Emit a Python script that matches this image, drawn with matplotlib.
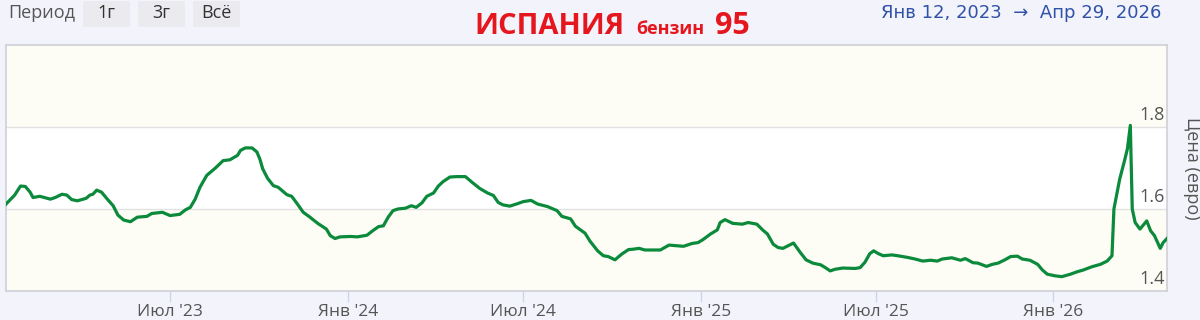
import numpy as np
import pandas as pd
import matplotlib
matplotlib.use('Agg')
import matplotlib.pyplot as plt
import matplotlib.transforms as mtransforms
from matplotlib.patches import FancyBboxPatch

plt.rcParams['font.family'] = ['Open Sans', 'DejaVu Sans']

# данные (дни от 12.01.2023, цена в евро)
start_date = '2023-01-12'
day_offset = [0, 9, 15, 20, 25, 28, 35, 46, 51, 58, 63, 68, 74, 83, 87, 90, 94, 99,
              105, 111, 116, 122, 129, 136, 146, 151, 162, 170, 180, 186, 191, 196,
              201, 208, 217, 225, 232, 240, 243, 248, 255, 260, 263, 266, 271, 277,
              282, 286, 291, 296, 302, 308, 315, 323, 332, 336, 341, 346, 357, 364,
              374, 380, 386, 391, 396, 401, 406, 414, 420, 425, 431, 436, 443, 448,
              453, 460, 467, 476, 483, 491, 499, 505, 510, 515, 522, 530, 536, 544,
              551, 561, 571, 576, 585, 590, 600, 605, 613, 619, 624, 631, 638, 645,
              650, 656, 662, 678, 687, 702, 711, 717, 722, 730, 737, 740, 745, 753,
              763, 769, 778, 784, 789, 795, 800, 805, 810, 816, 823, 829, 836, 844,
              849, 854, 859, 867, 880, 885, 890, 895, 899, 904, 909, 918, 924, 934,
              942, 950, 958, 965, 970, 980, 989, 994, 1002, 1007, 1016, 1022, 1028,
              1035, 1041, 1048, 1053, 1061, 1069, 1074, 1079, 1087, 1094, 1103, 1110,
              1116, 1125, 1134, 1141, 1146, 1148, 1151, 1154, 1159, 1162, 1165, 1167,
              1170, 1175, 1182, 1186, 1190, 1196, 1199, 1203]
price = [1.612, 1.634, 1.656, 1.655, 1.641, 1.628, 1.631, 1.624, 1.628, 1.636, 1.634,
         1.623, 1.620, 1.626, 1.634, 1.636, 1.646, 1.641, 1.624, 1.608, 1.585, 1.573,
         1.569, 1.580, 1.582, 1.589, 1.592, 1.584, 1.587, 1.598, 1.604, 1.624, 1.653,
         1.682, 1.700, 1.718, 1.720, 1.731, 1.743, 1.749, 1.749, 1.739, 1.722, 1.698,
         1.675, 1.657, 1.653, 1.645, 1.635, 1.631, 1.612, 1.592, 1.580, 1.565, 1.551,
         1.535, 1.528, 1.532, 1.533, 1.532, 1.536, 1.547, 1.557, 1.559, 1.580, 1.596,
         1.600, 1.602, 1.608, 1.604, 1.615, 1.631, 1.639, 1.656, 1.667, 1.678, 1.679,
         1.679, 1.665, 1.650, 1.639, 1.633, 1.616, 1.610, 1.607, 1.613, 1.618, 1.621,
         1.612, 1.606, 1.596, 1.582, 1.576, 1.558, 1.541, 1.522, 1.498, 1.486, 1.484,
         1.476, 1.490, 1.501, 1.502, 1.504, 1.500, 1.500, 1.512, 1.509, 1.516, 1.518,
         1.525, 1.539, 1.549, 1.567, 1.574, 1.565, 1.563, 1.567, 1.563, 1.549, 1.539,
         1.514, 1.506, 1.504, 1.510, 1.517, 1.494, 1.476, 1.468, 1.464, 1.457, 1.449,
         1.453, 1.456, 1.455, 1.457, 1.470, 1.491, 1.498, 1.491, 1.486, 1.488, 1.486,
         1.482, 1.478, 1.473, 1.475, 1.473, 1.478, 1.481, 1.475, 1.479, 1.469, 1.468,
         1.460, 1.465, 1.468, 1.476, 1.484, 1.485, 1.478, 1.475, 1.465, 1.451, 1.441,
         1.437, 1.435, 1.441, 1.447, 1.451, 1.459, 1.465, 1.473, 1.486, 1.600, 1.637,
         1.673, 1.718, 1.747, 1.804, 1.600, 1.567, 1.551, 1.571, 1.547, 1.535, 1.504,
         1.518, 1.528]

tick_dates = ['2023-07-01', '2024-01-01', '2024-07-01', '2025-01-01', '2025-07-01', '2026-01-01']
tick_labels = ["Июл '23", "Янв '24", "Июл '24", "Янв '25", "Июл '25", "Янв '26"]
y_ticks = [1.4, 1.6, 1.8]

dates = pd.Timestamp(start_date) + pd.to_timedelta(day_offset, unit='D')

page_bg = '#f3f3fb'
cream = '#fdfdf5'
txt_gray = '#555555'

fig = plt.figure(figsize=(12, 3.2), dpi=100, facecolor=page_bg)
ax = fig.add_axes([6/1200, 1 - 291/320, 1161/1200, 246/320])
ax.set_facecolor(cream)

x0 = pd.Timestamp(start_date)
x1 = pd.Timestamp('2026-04-29')
ax.set_xlim(x0, x1)
ax.set_ylim(1.4, 2.0)

# белая полоса 1.6 - 1.8
ax.axhspan(1.6, 1.8, color='white', zorder=0)
for yv in [1.6, 1.8]:
    ax.axhline(yv, color='#e2e2e2', lw=1.0, zorder=1)

ax.plot(dates, price, color='#0b8a3c', lw=2.3, solid_joinstyle='round', zorder=3)

for s in ax.spines.values():
    s.set_color('#cfd0d8')
    s.set_linewidth(1.2)

ax.set_yticks([])
ax.set_xticks(pd.to_datetime(tick_dates))
ax.set_xticklabels(tick_labels, fontsize=12.5, color=txt_gray)
ax.tick_params(axis='x', length=8, width=1, color='#ccd6eb', pad=1)

# подписи оси Y внутри графика
trans = mtransforms.blended_transform_factory(ax.transAxes, ax.transData)
for yv in y_ticks:
    ax.annotate(f'{yv:.1f}', xy=(0.998, yv), xycoords=trans,
                xytext=(0, 2), textcoords='offset points',
                ha='right', va='bottom', fontsize=13, color=txt_gray)

fig.text(1192/1200, 1 - 168/320, 'Цена (евро)', rotation=270,
         ha='center', va='center', fontsize=13, color=txt_gray)

# шапка
fig.text(8/1200, 1 - 13/320, 'Период', ha='left', va='center', fontsize=13, color=txt_gray)
for bx, lab in zip([83, 138, 193], ['1г', '3г', 'Всё']):
    fig.patches.append(FancyBboxPatch((bx/1200, 1 - 27/320), 47/1200, 26/320,
                                      boxstyle='round,pad=0,rounding_size=0.003',
                                      transform=fig.transFigure, facecolor='#eaeaef',
                                      edgecolor='none'))
    fig.text((bx + 23.5)/1200, 1 - 13/320, lab, ha='center', va='center',
             fontsize=13, color='#333333')

red = '#e5161d'
fig.text(474/1200, 1 - 34/320, 'ИСПАНИЯ', ha='left', va='baseline',
         fontsize=21, fontweight='bold', color=red)
fig.text(636/1200, 1 - 34/320, 'бензин', ha='left', va='baseline',
         fontsize=13, fontweight='bold', color=red)
fig.text(715/1200, 1 - 34/320, '95', ha='left', va='baseline',
         fontsize=22, fontweight='bold', color=red)

fig.text(1161/1200, 1 - 13/320, 'Янв 12, 2023  →  Апр 29, 2026', ha='right', va='center',
         fontsize=13, color='#2f52a8', family=['DejaVu Sans'])

fig.savefig('out.png', dpi=100, facecolor=page_bg)
